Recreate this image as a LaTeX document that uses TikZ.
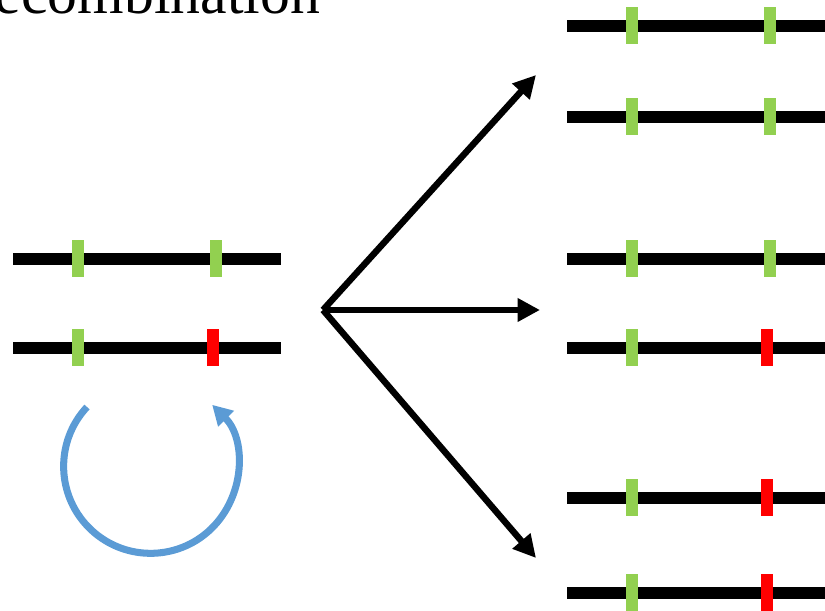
\documentclass[tikz,border=0pt]{standalone}
\usepackage{fontspec}
\setmainfont{Liberation Serif}
\usetikzlibrary{arrows.meta,positioning}
\definecolor{Strand}{HTML}{000000}
\definecolor{Allele}{HTML}{92D050}
\definecolor{Mutant}{HTML}{FF0000}
\definecolor{Loop}{HTML}{5B9BD5}

\begin{document}
\begin{tikzpicture}[x=0.025cm,y=0.025cm,strand/.style={draw=Strand,line width=8.5pt},locus/.style={minimum width=12*0.7113pt,minimum height=37*0.7113pt,inner sep=0pt,outer sep=0pt},arrow/.style={-{Triangle[length=16pt,width=16pt]},draw=Strand,line width=4.6pt},loop/.style={-{Triangle[length=14pt,width=15pt]},draw=Loop,line width=5pt}]
\useasboundingbox (0,0) rectangle (825,611);
\clip (0,0) rectangle (825,611);
\node[anchor=base east,font=\fontsize{42.5}{50}\selectfont] (title) at (325,597) {Recombination};
% chromosomes: x from, x to, y, left locus x, left colour, right locus x, right colour
\foreach \xa/\xb/\y/\ma/\ca/\mb/\cb in {13/281/352/78/Allele/216/Allele,13/281/263/78/Allele/213/Mutant,567/830/585/632/Allele/770/Allele,567/830/494/632/Allele/770/Allele,567/830/352/632/Allele/770/Allele,567/830/263/632/Allele/767/Mutant,567/830/113/632/Allele/767/Mutant,567/830/18/632/Allele/767/Mutant}{
  \draw[strand] (\xa,\y)--(\xb,\y);
  \node[locus,fill=\ca] at (\ma,\y) {};
  \node[locus,fill=\cb] at (\mb,\y) {};
}
\coordinate (fork) at (323,301);
\coordinate (up) at (536,536);
\coordinate (mid) at (540,301);
\coordinate (down) at (536,53);
\draw[arrow] (fork)--(up); \draw[arrow] (fork)--(mid); \draw[arrow] (fork)--(down);
\coordinate (loopstart) at (87,204);
\draw[loop] (loopstart) arc[start angle=137,end angle=405,radius=87];
\end{tikzpicture}
\end{document}
